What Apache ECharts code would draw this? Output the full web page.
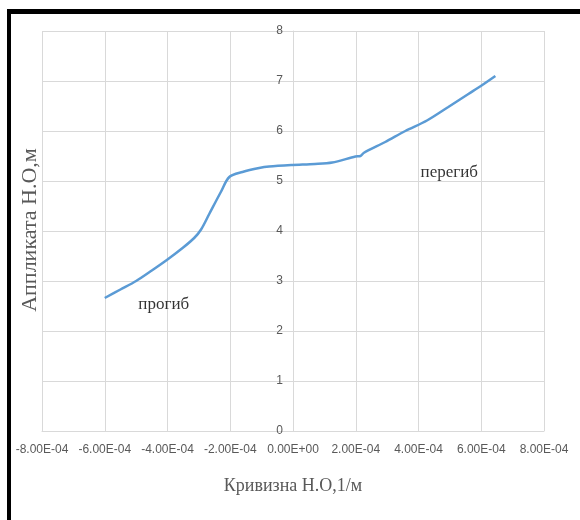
<!DOCTYPE html>
<html>
<head>
<meta charset="utf-8">
<script src="https://cdn.jsdelivr.net/npm/echarts@6/dist/echarts.min.js"></script>
<style>html,body{margin:0;padding:0;background:#fff}#c{width:580px;height:520px}</style>
</head>
<body>
<div id="c"></div>
<script>
// Curvature (1/m) values
var curvature = [-6.00e-4, -5.50e-4, -5.00e-4, -4.50e-4, -4.00e-4, -3.50e-4, -3.15e-4, -2.93e-4, -2.67e-4, -2.30e-4, -2.03e-4, -1.61e-4, -1.08e-4, -0.76e-4, -0.02e-4, 0.70e-4, 1.25e-4, 1.99e-4, 2.15e-4, 2.25e-4, 2.94e-4, 3.58e-4, 4.27e-4, 4.95e-4, 5.59e-4, 6.01e-4, 6.45e-4];
// Ordinate (m) values
var ordinate  = [2.66, 2.83, 3.00, 3.21, 3.43, 3.67, 3.86, 4.03, 4.34, 4.78, 5.08, 5.18, 5.26, 5.29, 5.32, 5.34, 5.37, 5.49, 5.50, 5.56, 5.78, 6.00, 6.21, 6.48, 6.74, 6.91, 7.10];
var xTickLabels = ['-8.00E-04','-6.00E-04','-4.00E-04','-2.00E-04','0.00E+00','2.00E-04','4.00E-04','6.00E-04','8.00E-04'];
var yTickLabels = ['0','1','2','3','4','5','6','7','8'];
var xAxisTitle = 'Кривизна Н.О,1/м';
var yAxisTitle = 'Аппликата Н.О,м';
var annotations = [{text:'прогиб', x:-4.12e-4, y:2.53}, {text:'перегиб', x:4.98e-4, y:5.17}];

var chart = echarts.init(document.getElementById('c'), null, {renderer:'canvas'});
var tickFont = {fontFamily:"'Liberation Sans Narrow','Arial Narrow','Liberation Sans',sans-serif", fontSize:12, color:'#595959'};
var data = curvature.map(function(v,i){return [v, ordinate[i]];});
var XMIN = -8e-4, XSTEP = 2e-4;

var option = {
  animation:false,
  backgroundColor:'#ffffff',
  grid:{left:42, right:36, top:31, bottom:89},
  xAxis:{
    type:'value', min:XMIN, max:8e-4, interval:XSTEP,
    axisLine:{show:true, onZero:false, lineStyle:{color:'#d9d9d9'}},
    axisTick:{show:false},
    splitLine:{show:true, lineStyle:{color:'#d9d9d9', width:1}},
    axisLabel:Object.assign({margin:13, formatter:function(v){var i=Math.round((v-XMIN)/XSTEP);return xTickLabels[i]||'';}}, tickFont),
    name:xAxisTitle, nameLocation:'middle', nameGap:46,
    nameTextStyle:{fontFamily:"'Liberation Serif','Times New Roman',serif", fontSize:18, color:'#595959'}
  },
  yAxis:{
    type:'value', min:0, max:8, interval:1, offset:-251,
    axisLine:{show:true, onZero:false, lineStyle:{color:'#d9d9d9'}},
    axisTick:{show:false},
    splitLine:{show:true, lineStyle:{color:'#d9d9d9', width:1}},
    axisLabel:Object.assign({margin:10, formatter:function(v){return yTickLabels[Math.round(v)]||'';}}, tickFont)
  },
  series:[{
    type:'line', data:data, smooth:0.3, showSymbol:false,
    lineStyle:{color:'#5B9BD5', width:2.5}, itemStyle:{color:'#5B9BD5'}
  },{
    type:'scatter', data:annotations.map(function(a){return [a.x,a.y];}), symbolSize:0,
    silent:true,
    label:{show:true, position:'inside', formatter:function(p){return annotations[p.dataIndex].text;},
      fontFamily:"'Liberation Serif','Times New Roman',serif", fontSize:17, color:'#000'}
  }],
  graphic:[
    {type:'rect', shape:{x:7, y:9, width:573, height:5}, style:{fill:'#000'}},
    {type:'rect', shape:{x:7, y:9, width:4, height:511}, style:{fill:'#000'}},
    {type:'text', x:30, y:230, rotation:Math.PI/2,
     style:{text:yAxisTitle, fontFamily:"'Liberation Serif','Times New Roman',serif", fontSize:22, fill:'#595959', align:'center', verticalAlign:'middle'}}
  ]
};
chart.setOption(option);
</script>
</body>
</html>
